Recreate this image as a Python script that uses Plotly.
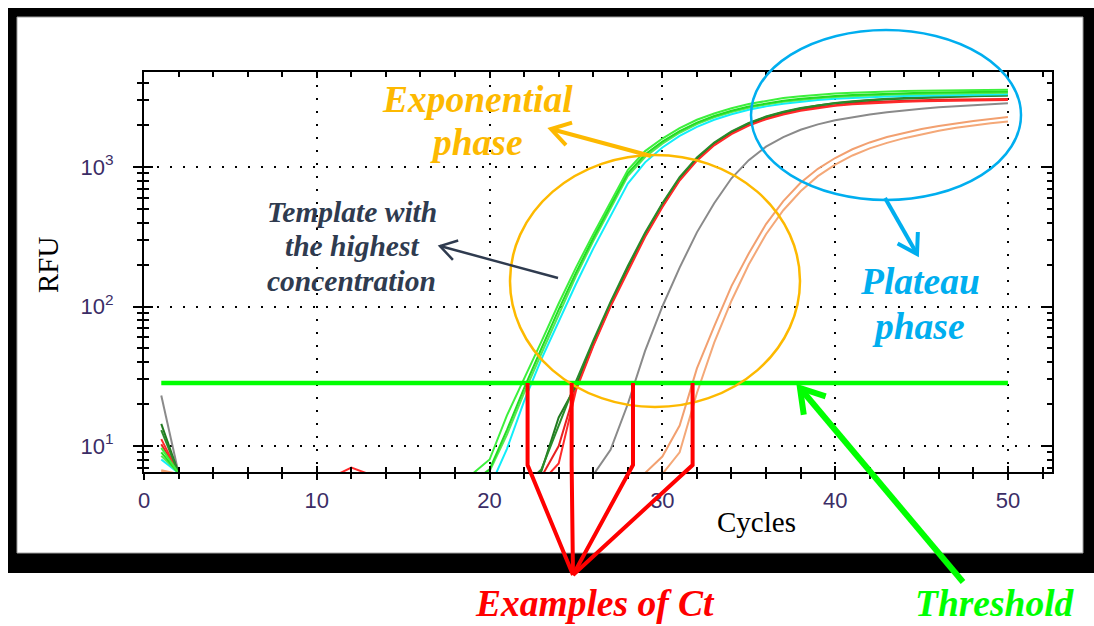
import math
import plotly.graph_objects as go

# ---------------------------------------------------------------------------
# qPCR amplification data (RFU per cycle, cycles 1..50; None = below scale)
# ---------------------------------------------------------------------------
cycles = list(range(1, 51))

green_a = [9.7, 6.4] + [None] * 16 + [
    6.3, 8.0, 16.5, 30, 56, 105, 190, 330, 560, 950,
    1300, 1600, 1900, 2180, 2420, 2640, 2830, 2990, 3120, 3220,
    3300, 3360, 3410, 3450, 3480, 3500, 3520, 3535, 3550, 3560,
    3570, 3580]
green_b = [9.0, 6.4] + [None] * 16 + [
    5.5, 6.8, 13, 26, 50, 95, 175, 310, 530, 900,
    1230, 1520, 1810, 2080, 2320, 2530, 2710, 2860, 2990, 3090,
    3170, 3230, 3280, 3320, 3350, 3380, 3400, 3420, 3435, 3450,
    3460, 3470]
green_c = [8.5, 6.4] + [None] * 16 + [
    5.0, 6.6, 12, 24, 46, 88, 165, 295, 505, 860,
    1180, 1470, 1760, 2030, 2270, 2480, 2660, 2810, 2930, 3030,
    3110, 3170, 3220, 3260, 3290, 3320, 3340, 3360, 3375, 3390,
    3400, 3410]
cyan = [8.0, 6.4] + [None] * 16 + [
    4.5, 5.0, 9.5, 21, 42, 78, 145, 260, 450, 760,
    1080, 1380, 1670, 1940, 2180, 2390, 2570, 2720, 2840, 2940,
    3020, 3080, 3130, 3170, 3200, 3230, 3250, 3270, 3285, 3300,
    3310, 3320]
dark_green_1 = [14.4, 6.4] + [None] * 19 + [
    5.0, 6.6, 16, 27, 55, 105, 190, 330, 540, 830,
    1150, 1480, 1780, 2050, 2280, 2470, 2630, 2760, 2860, 2940,
    3010, 3060, 3100, 3140, 3170, 3190, 3210, 3230, 3250]
dark_green_2 = [13.0, 6.4] + [None] * 19 + [
    5.2, 6.8, 14, 29, 57, 108, 195, 338, 550, 845,
    1170, 1500, 1800, 2070, 2300, 2490, 2650, 2780, 2880, 2960,
    3030, 3080, 3120, 3160, 3190, 3210, 3230, 3250, 3270]
red_1 = [11.2, 6.4] + [None] * 8 + [6.1, 7.0, 6.3] + [None] * 9 + [
    5.5, 7.5, 25, 52, 100, 180, 315, 515, 800, 1110,
    1430, 1720, 1980, 2200, 2380, 2530, 2650, 2750, 2820, 2870,
    2910, 2940, 2960, 2980, 2995, 3005, 3015, 3025]
red_2 = [10.3, 6.4] + [None] * 20 + [
    6.0, 10, 26, 53, 102, 185, 322, 525, 815, 1130,
    1455, 1750, 2010, 2230, 2410, 2560, 2680, 2780, 2860, 2920,
    2960, 2990, 3010, 3030, 3045, 3055, 3065, 3075]
gray = [23, 6.4] + [None] * 23 + [
    6.2, 9.4, 20, 48, 100, 190, 340, 550, 830, 1120,
    1400, 1640, 1850, 2020, 2160, 2280, 2380, 2470, 2550, 2620,
    2680, 2730, 2780, 2820, 2860]
orange_1 = [6.7, 6.3] + [None] * 26 + [
    6.4, 8.4, 14, 36, 72, 140, 240, 390, 570, 770,
    970, 1160, 1340, 1500, 1640, 1760, 1870, 1970, 2060, 2140,
    2210, 2280]
orange_2 = [6.6, 6.2] + [None] * 27 + [
    6.3, 9.0, 24, 55, 110, 200, 330, 490, 670, 860,
    1040, 1210, 1360, 1490, 1610, 1720, 1820, 1910, 1990, 2060,
    2120]

threshold_rfu = 28.3
ct_examples = [22.2, 24.75, 28.3, 31.75]

y_ticks = [10, 100, 1000]
y_tick_text = ["10<sup>1</sup>", "10<sup>2</sup>", "10<sup>3</sup>"]
y_minor_ticks = [7, 8, 9, 20, 30, 40, 50, 60, 70, 80, 90,
                 200, 300, 400, 500, 600, 700, 800, 900, 2000, 3000, 4000]

# ---------------------------------------------------------------------------
# Layout geometry (pixels)
# ---------------------------------------------------------------------------
W, H = 1094, 626
PL, PR, PT, PB = 144, 1052, 72, 472
x_range = [0, 52.55]
y_range = [0.8136, 3.681]  # log10 units


def fx(p):
    return (p - PL) / (PR - PL)


def fy(p):
    return (PB - p) / (PB - PT)


def data_to_px_x(v):
    return PL + (v - x_range[0]) / (x_range[1] - x_range[0]) * (PR - PL)


def data_to_px_y(v):
    return PB - (math.log10(v) - y_range[0]) / (y_range[1] - y_range[0]) * (PB - PT)


fig = go.Figure()

series = [
    (orange_2, "#F4A878"), (orange_1, "#F2A070"),
    (gray, "#8A8A8A"),
    (red_2, "#E82020"), (dark_green_1, "#1F7A1F"),
    (red_1, "#FF2A2A"), (dark_green_2, "#2A8A2A"),
    (cyan, "#10EEFA"),
    (green_c, "#55E855"), (green_b, "#22DD22"), (green_a, "#3CF03C"),
]
for ys, col in series:
    fig.add_trace(go.Scatter(x=cycles, y=ys, mode="lines",
                             line=dict(color=col, width=2),
                             connectgaps=False, hoverinfo="skip",
                             showlegend=False))

fig.add_trace(go.Scatter(x=[cycles[0], cycles[-1]],
                         y=[threshold_rfu, threshold_rfu], mode="lines",
                         line=dict(color="#00FF00", width=4.5),
                         hoverinfo="skip", showlegend=False))

# helper trace for the overlay axes carrying the inner ticks
fig.add_trace(go.Scatter(x=[None], y=[None], xaxis="x2", yaxis="y2",
                         mode="lines", hoverinfo="skip", showlegend=False))

tick_font = dict(family="Liberation Sans", size=22, color="#3b2d66")
grid_dash = "2px,11px"

fig.update_layout(
    width=W, height=H,
    margin=dict(l=PL, r=W - PR, t=PT, b=H - PB),
    paper_bgcolor="white", plot_bgcolor="white",
    font=dict(family="Liberation Serif"),
    xaxis=dict(range=x_range, tick0=0, dtick=10, ticks="outside",
               ticklen=6, tickwidth=2, tickcolor="black",
               showline=True, linecolor="black", linewidth=2,
               showgrid=True, gridcolor="black", gridwidth=1.5,
               griddash=grid_dash, zeroline=False,
               minor=dict(ticks="outside", ticklen=5, tickwidth=1.5,
                          tickcolor="black", tick0=0, dtick=2,
                          showgrid=False),
               tickfont=tick_font, ticklabelstandoff=2),
    yaxis=dict(type="log", range=y_range, tickmode="array",
               tickvals=y_ticks, ticktext=y_tick_text,
               ticks="outside", ticklen=9, tickwidth=2, tickcolor="black",
               showline=True, linecolor="black", linewidth=2,
               showgrid=True, gridcolor="black", gridwidth=1.5,
               griddash=grid_dash, zeroline=False,
               minor=dict(ticks="outside", ticklen=5, tickwidth=1.5,
                          tickcolor="black", tickmode="array",
                          tickvals=y_minor_ticks, showgrid=False),
               tickfont=tick_font, ticklabelstandoff=15),
    xaxis2=dict(range=x_range, overlaying="x", anchor="y2", side="bottom",
                tick0=0, dtick=10, ticks="inside", ticklen=6, tickwidth=2,
                tickcolor="black", showline=True, linecolor="black",
                linewidth=2, mirror="ticks", showgrid=False,
                zeroline=False, showticklabels=False,
                minor=dict(ticks="inside", ticklen=5, tickwidth=1.5,
                           tickcolor="black", tick0=0, dtick=2,
                           showgrid=False)),
    yaxis2=dict(type="log", range=y_range, overlaying="y", anchor="x2",
                side="left", tickmode="array", tickvals=y_ticks,
                ticks="inside", ticklen=9, tickwidth=2, tickcolor="black",
                showline=True, linecolor="black", linewidth=2,
                mirror="ticks", showgrid=False, zeroline=False,
                showticklabels=False,
                minor=dict(ticks="inside", ticklen=5, tickwidth=1.5,
                           tickcolor="black", tickmode="array",
                           tickvals=y_minor_ticks, showgrid=False)),
)

shapes = []


def rect(x0, y0, x1, y1, fill=None, line_color=None, line_width=0):
    shapes.append(dict(type="rect", xref="paper", yref="paper",
                       x0=fx(x0), x1=fx(x1), y0=fy(y1), y1=fy(y0),
                       fillcolor=fill or "rgba(0,0,0,0)",
                       line=dict(color=line_color or "rgba(0,0,0,0)",
                                 width=line_width),
                       layer="above"))


def polyline(points, color, width):
    path = "M " + " L ".join(f"{fx(x):.5f},{fy(y):.5f}" for x, y in points)
    shapes.append(dict(type="path", xref="paper", yref="paper", path=path,
                       line=dict(color=color, width=width), layer="above"))


def ellipse(x0, y0, x1, y1, color, width):
    shapes.append(dict(type="circle", xref="paper", yref="paper",
                       x0=fx(x0), x1=fx(x1), y0=fy(y1), y1=fy(y0),
                       line=dict(color=color, width=width), layer="above"))


def arrow(tail, tip, color, width, head_len, half_angle=32):
    polyline([tail, tip], color, width)
    ang = math.atan2(tail[1] - tip[1], tail[0] - tip[0])
    a = math.radians(half_angle)
    b1 = (tip[0] + head_len * math.cos(ang + a), tip[1] + head_len * math.sin(ang + a))
    b2 = (tip[0] + head_len * math.cos(ang - a), tip[1] + head_len * math.sin(ang - a))
    polyline([b1, tip, b2], color, width)


# black frame around the chart panel
rect(8, 8, 1094, 17, fill="black")
rect(8, 8, 17, 573, fill="black")
rect(8, 553, 1094, 573, fill="black")
rect(1083, 8, 1094, 573, fill="black")
rect(17, 17, 1083, 553, line_color="#a0a0a0", line_width=1)

ORANGE = "#FDB900"
BLUE = "#00AEEF"
SLATE = "#2F3B4F"
RED = "#FF0000"
LIME = "#00FF00"

# phase highlights
ellipse(510, 155, 800, 407, ORANGE, 2.5)
ellipse(751, 30, 1021, 200, BLUE, 2.5)

arrow((651, 156), (551, 129), ORANGE, 4, 22)
arrow((558, 278), (440, 246), SLATE, 2.5, 19)
arrow((885, 198), (917, 254), BLUE, 4, 22)
arrow((963, 582), (800, 388), LIME, 6, 27)

# Ct markers: threshold crossing down to a common point
thr_py = data_to_px_y(threshold_rfu)
hub = (573, 575)
for ct in ct_examples:
    cx = data_to_px_x(ct)
    polyline([(cx, thr_py), (cx, 465), hub], RED, 4)

fig.update_layout(shapes=shapes)

annotations = []


def label(text, x, y, color, size, angle=0, bold_italic=True):
    font = dict(family="Liberation Serif", size=size, color=color)
    if bold_italic:
        font.update(weight="bold", style="italic")
    annotations.append(dict(text=text, x=fx(x), y=fy(y), xref="paper",
                            yref="paper", xanchor="center", yanchor="middle",
                            showarrow=False, textangle=angle, font=font))


label("Exponential", 477, 100, ORANGE, 37.5)
label("phase", 476, 142, ORANGE, 37.5)
label("Template with", 352, 212, SLATE, 29.5)
label("the highest", 352, 246, SLATE, 29.5)
label("concentration", 351, 281, SLATE, 29.5)
label("Plateau", 920, 281, BLUE, 37.5)
label("phase", 918, 326, BLUE, 37.5)
label("Examples of Ct", 595, 603, RED, 37.5)
label("Threshold", 995, 603, LIME, 37.5)
label("RFU", 48, 265, "black", 29, angle=-90, bold_italic=False)
label("Cycles", 756, 522, "black", 29, bold_italic=False)

fig.update_layout(annotations=annotations)

fig.write_html("out.html")
